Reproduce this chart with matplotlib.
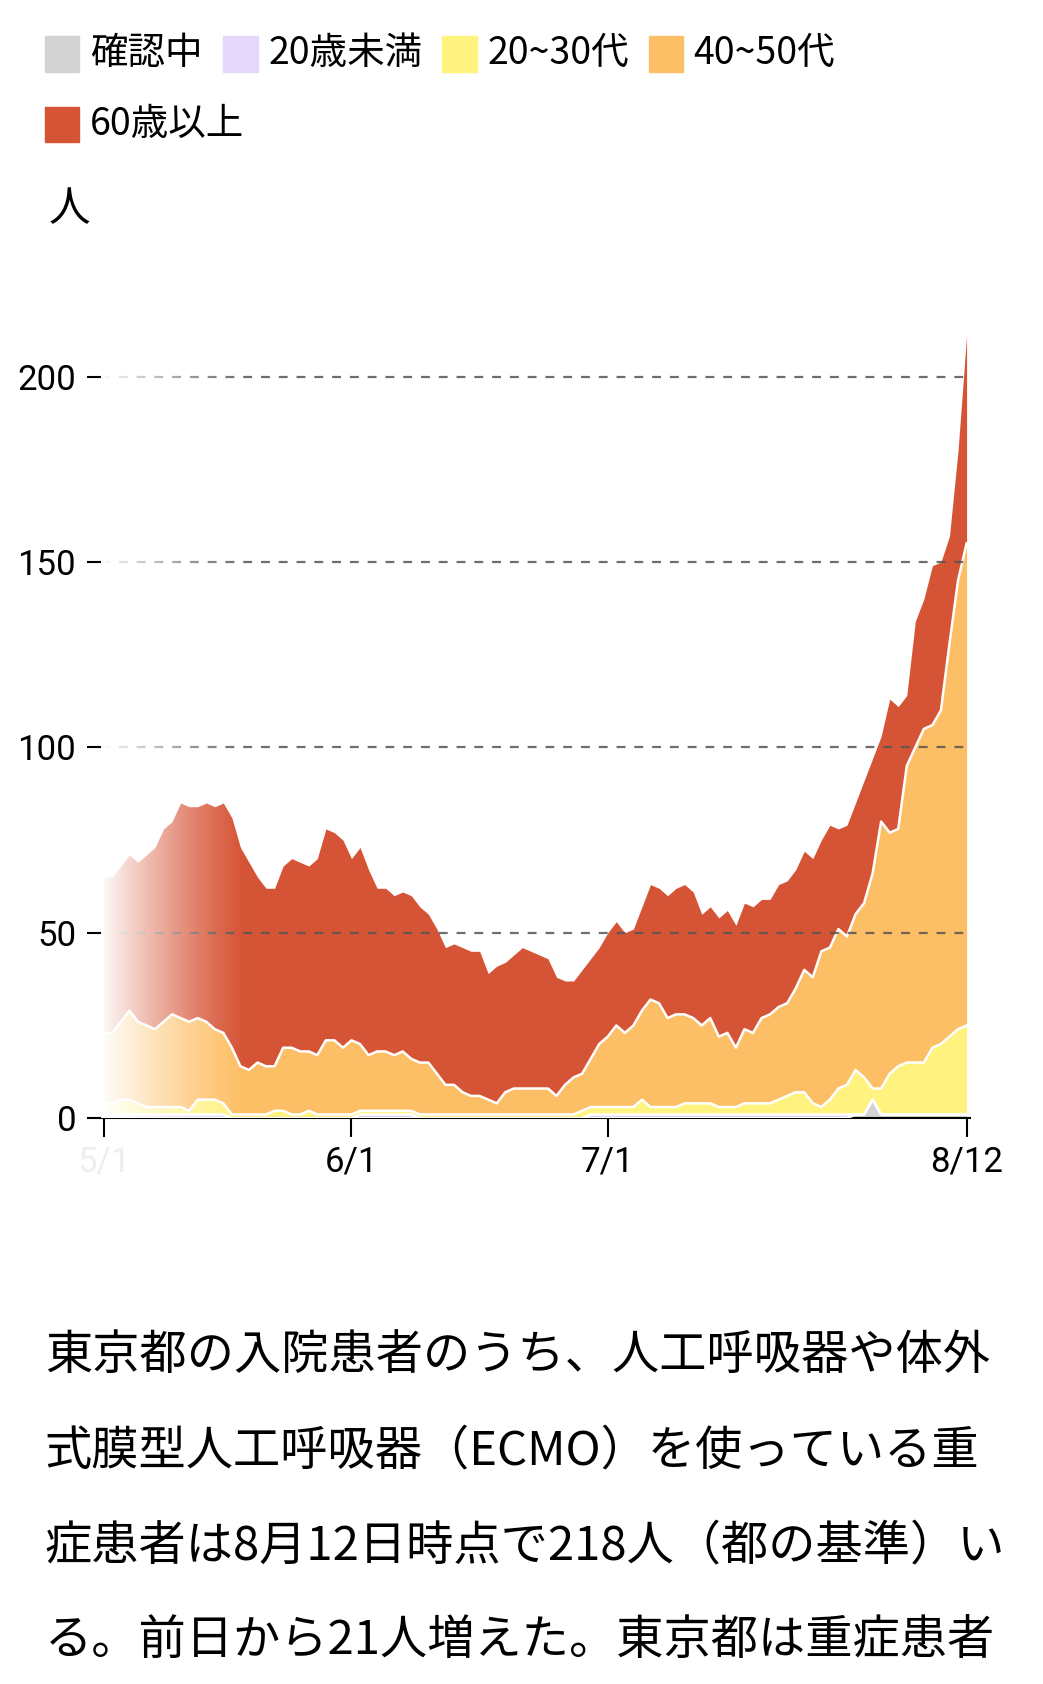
import numpy as np
import matplotlib
matplotlib.use("Agg")
import matplotlib.pyplot as plt
from matplotlib.patches import Rectangle

plt.rcParams['font.family'] = ['Noto Sans CJK JP', 'DejaVu Sans']

dates = np.arange(np.datetime64('2021-05-03'), np.datetime64('2021-08-13'))
# cumulative boundaries
total = [65,65,68,71,69,71,73,78,80,85,84,84,85,84,85,81,73,69,65,62,62,68,70,69,68,70,78,77,75,70,
         73,67,62,62,60,61,60,57,55,51,46,47,46,45,45,39,41,42,44,46,45,44,43,38,37,37,40,43,46,50,
         53,50,51,57,63,62,60,62,63,61,55,57,54,56,52,58,57,59,59,63,64,67,72,70,75,79,78,79,85,91,
         97,103,113,111,114,134,140,149,150,157,180,211]
upto40 = [23,23,26,29,26,25,24,26,28,27,26,27,26,24,23,19,14,13,15,14,14,19,19,18,18,17,21,21,19,21,
          20,17,18,18,17,18,16,15,15,12,9,9,7,6,6,5,4,7,8,8,8,8,8,6,9,11,12,16,20,22,
          25,23,25,29,32,31,27,28,28,27,25,27,22,23,19,24,23,27,28,30,31,35,40,38,45,46,51,49,55,58,
          66,80,77,78,95,100,105,106,110,128,145,155]
upto20 = [4,4,5,5,4,3,3,3,3,3,2,5,5,5,4,1,1,1,1,1,2,2,1,1,2,1,1,1,1,1,
          2,2,2,2,2,2,2,1,1,1,1,1,1,1,1,1,1,1,1,1,1,1,1,1,1,1,2,3,3,3,
          3,3,3,5,3,3,3,3,4,4,4,4,3,3,3,4,4,4,4,5,6,7,7,4,3,5,8,9,13,11,
          8,8,12,14,15,15,15,19,20,22,24,25]
under20 = [1,1,1,1,1,1,1,1,1,1,1,1,1,1,1,0,0,0,0,0,0,0,0,0,0,0,0,0,0,0,
           1,1,1,1,1,1,1,0,0,0,0,0,0,0,0,0,0,0,0,0,0,0,0,0,0,0,0,1,1,1,
           1,1,1,1,1,1,1,1,1,1,1,1,1,1,1,1,1,1,1,1,1,1,1,1,1,1,1,1,1,1,
           1,1,1,1,1,1,1,1,1,1,1,1]
unknown = [0]*88 + [1,1,5,1,1,1,1,1,1,1,1,1,1,1]

total = np.array(total); upto40 = np.array(upto40); upto20 = np.array(upto20)
under20 = np.maximum(np.array(under20), np.array(unknown))
unknown = np.array(unknown)

labels = ['確認中', '20歳未満', '20~30代', '40~50代', '60歳以上']
colors = ['#d3d3d3', '#e6d8fa', '#fff27f', '#fdbf65', '#d65436']
layers = [np.zeros_like(total), unknown, under20, upto20, upto40, total]

fig = plt.figure(figsize=(10.43, 16.84), dpi=100)
ax = fig.add_axes([0.097, 0.336, 0.833, 0.48])
x = np.arange(len(total))
for i in range(5):
    ax.fill_between(x, layers[i], layers[i+1], color=colors[i], lw=0, zorder=2)
    if i >= 1:
        ax.plot(x, layers[i], color='white', lw=1.8, zorder=3)
for v in [50, 100, 150, 200]:
    ax.axhline(v, color='#555555', lw=1.6, ls=(0, (4, 4)), alpha=0.85, zorder=4)

# left fade
grad = np.ones((2, 256, 4))
grad[..., 3] = np.linspace(1, 0, 256) ** 1.2
ax.imshow(grad, extent=[-0.5, 16.5, 0, 230], aspect='auto', zorder=5)

ax.set_xlim(-0.3, len(total) - 0.6)
ax.set_ylim(0, 218)
for s in ['top', 'right', 'left']:
    ax.spines[s].set_visible(False)
ax.spines['bottom'].set_color('black')
ax.spines['bottom'].set_linewidth(1.5)
ax.set_yticks([0, 50, 100, 150, 200])
ax.set_yticklabels(['0', '50', '100', '150', '200'], fontsize=25, family=['Roboto', 'DejaVu Sans'])
ax.tick_params(axis='y', length=10, width=1.5, pad=8)
xt = [0, 29, 59, 101]
ax.set_xticks(xt)
ax.set_xticklabels(['5/1', '6/1', '7/1', '8/12'], fontsize=25, family=['Roboto', 'DejaVu Sans'])
ax.get_xticklabels()[0].set_color('#eeeeee')
ax.tick_params(axis='x', length=14, width=1.5, pad=6)
ax.text(-0.06, 1.11, '人', transform=ax.transAxes, fontsize=30)

# legend
lx = [0.043, 0.214, 0.424, 0.622, 0.043]
ly = [0.968, 0.968, 0.968, 0.968, 0.926]
for i in range(5):
    fig.patches.append(Rectangle((lx[i], ly[i] - 0.0105), 0.033, 0.021, transform=fig.transFigure,
                                 color=colors[i]))
    fig.text(lx[i] + 0.043, ly[i], labels[i], fontsize=27, va='center')

lines = ['東京都の入院患者のうち、人工呼吸器や体外',
         '式膜型人工呼吸器（ECMO）を使っている重',
         '症患者は8月12日時点で218人（都の基準）い',
         'る。前日から21人増えた。東京都は重症患者']
for k, t in enumerate(lines):
    fig.text(0.043, 0.195 - k * 0.0565, t, fontsize=34, va='center')

fig.savefig('out.png', dpi=100)
